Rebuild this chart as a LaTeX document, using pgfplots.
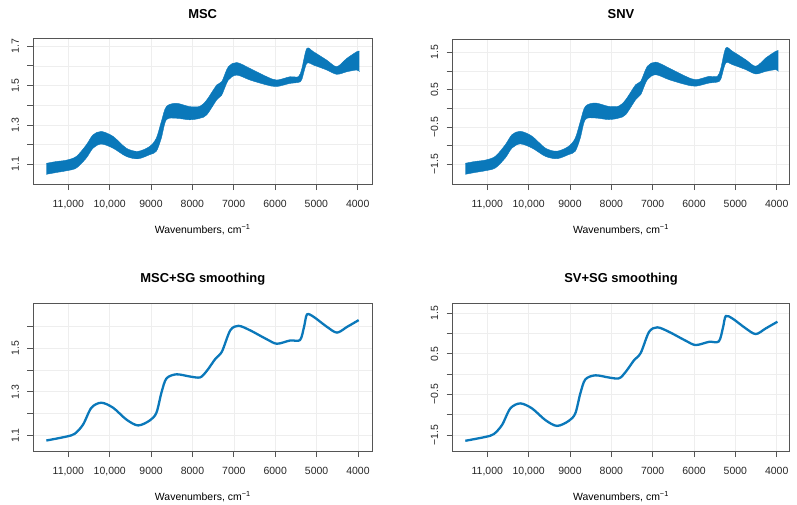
\documentclass[border=0pt]{standalone}
\usepackage{fontspec}
\setmainfont{Liberation Sans}
\usepackage{pgfplots}
\pgfplotsset{compat=1.18}
\usepackage{pgfplotstable}
\usepgfplotslibrary{fillbetween}
\definecolor{spec}{HTML}{0A78BA}
\definecolor{frame}{HTML}{555555}
\definecolor{grd}{HTML}{EEEEEE}

% band envelopes of the raw spectra (lo/hi) and the smoothed curves
\pgfplotstableread{
w     lo     hi
11532 1.049  1.105
11300 1.058  1.114
11048 1.067  1.121
10806 1.081  1.140
10564 1.132  1.199
10402 1.182  1.250
10202 1.203  1.267
9918  1.182  1.242
9597  1.140  1.182
9314  1.128  1.166
9031  1.149  1.191
8871  1.166  1.233
8750  1.233  1.317
8629  1.326  1.393
8387  1.334  1.410
8063  1.326  1.393
7814  1.334  1.395
7652  1.351  1.427
7410  1.427  1.503
7288  1.452  1.520
7129  1.528  1.596
6925  1.553  1.617
6604  1.528  1.587
6200  1.503  1.545
5958  1.495  1.528
5636  1.511  1.545
5435  1.516  1.545
5353  1.530  1.585
5232  1.612  1.688
5071  1.604  1.672
4748  1.579  1.629
4506  1.557  1.596
4264  1.570  1.638
4022  1.579  1.672
3959  1.570  1.675
}\msc

\pgfplotstableread{
w     lo      hi
11532 -1.770  -1.474
11300 -1.722  -1.426
11048 -1.675  -1.389
10806 -1.601  -1.288
10564 -1.331  -0.976
10402 -1.066  -0.706
10202 -0.955  -0.616
9918  -1.066  -0.748
9597  -1.288  -1.066
9314  -1.352  -1.151
9031  -1.241  -1.018
8871  -1.151  -0.796
8750  -0.796  -0.351
8629  -0.303   0.051
8387  -0.261   0.141
8063  -0.303   0.051
7814  -0.261   0.062
7652  -0.171   0.231
7410   0.231   0.634
7288   0.364   0.724
7129   0.766   1.126
6925   0.899   1.238
6604   0.766   1.079
6200   0.634   0.856
5958   0.592   0.766
5636   0.676   0.856
5435   0.703   0.856
5353   0.777   1.068
5232   1.211   1.613
5071   1.169   1.529
4748   1.036   1.301
4506   0.920   1.126
4264   0.989   1.349
4022   1.036   1.529
3959   0.989   1.545
}\snv

\pgfplotstableread{
w     msc    snv
11532 1.077  -1.639
11048 1.095  -1.544
10845 1.108  -1.475
10644 1.150  -1.251
10443 1.227  -0.843
10202 1.250  -0.720
9918  1.227  -0.843
9597  1.173  -1.129
9314  1.146  -1.273
9031  1.169  -1.151
8871  1.204  -0.965
8750  1.296  -0.476
8629  1.361  -0.131
8387  1.380  -0.030
8063  1.370  -0.083
7814  1.366  -0.104
7652  1.396   0.055
7450  1.450   0.342
7288  1.484   0.522
7087  1.581   1.038
6887  1.602   1.149
6604  1.581   1.038
6200  1.540   0.820
5958  1.520   0.714
5636  1.535   0.793
5400  1.537   0.804
5300  1.600   1.139
5232  1.654   1.425
5071  1.643   1.367
4748  1.597   1.123
4506  1.571   0.984
4264  1.597   1.123
3983  1.628   1.287
}\sg

\pgfplotsset{
  rpanel/.style={
    scale only axis, x dir=reverse, anchor=north west,
    scaled x ticks=false, scaled y ticks=false,
    axis line style={frame, line width=0.9bp},
    tick style={frame, line width=0.8bp},
    major tick length=6bp, tick align=outside,
    xtick pos=bottom, ytick pos=left,
    grid=major, major grid style={grd, line width=0.6bp},
    xtick={4000,5000,6000,7000,8000,9000,10000,11000},
    xticklabels={4000,5000,6000,7000,8000,9000,{10,000},{11,000}},
    ticklabel style={font=\fontsize{10.5}{12}\selectfont, text=black!85},
    xticklabel style={anchor=base, yshift=-17bp},
    yticklabel style={rotate=90, anchor=base, yshift=8.5bp},
    title style={font=\bfseries\fontsize{13}{15}\selectfont, at={(0.5,1)}, anchor=base, yshift=14.5bp},
    xlabel={Wavenumbers, cm\textsuperscript{−1}},
    xlabel style={font=\fontsize{10.5}{12}\selectfont, at={(axis description cs:0.5,0)}, anchor=base, yshift=-49bp},
  },
  band/.style={draw=spec, line width=0.4bp, smooth, tension=0.5},
  sgline/.style={draw=spec, line width=2.3bp, smooth, tension=0.5},
}

\begin{document}
\begin{tikzpicture}

\begin{axis}[rpanel, at={(33.3bp,-38.5bp)}, width=338.7bp, height=145.5bp,
    xmin=3654, xmax=11847, ymin=1.0, ymax=1.739, title={MSC},
    ytick={1.1,1.2,1.3,1.4,1.5,1.6,1.7}, yticklabels={1.1,,1.3,,1.5,,1.7}]
  \addplot[band, name path=hi] table[x=w, y=hi] {\msc};
  \addplot[band, name path=lo] table[x=w, y=lo] {\msc};
  \addplot[fill=spec, draw=none] fill between[of=hi and lo];
\end{axis}

\begin{axis}[rpanel, at={(452.7bp,-39bp)}, width=336.6bp, height=145bp,
    xmin=3695, xmax=11837, ymin=-2.03, ymax=1.857, title={SNV},
    ytick={-1.5,-1,-0.5,0,0.5,1,1.5}, yticklabels={−1.5,,−0.5,,0.5,,1.5}]
  \addplot[band, name path=hi] table[x=w, y=hi] {\snv};
  \addplot[band, name path=lo] table[x=w, y=lo] {\snv};
  \addplot[fill=spec, draw=none] fill between[of=hi and lo];
\end{axis}

\begin{axis}[rpanel, at={(33.3bp,-303.3bp)}, width=339bp, height=147.7bp,
    xmin=3654, xmax=11847, ymin=1.029, ymax=1.705, title={MSC+SG smoothing},
    ytick={1.1,1.2,1.3,1.4,1.5,1.6}, yticklabels={1.1,,1.3,,1.5,}]
  \addplot[sgline] table[x=w, y=msc] {\sg};
\end{axis}

\begin{axis}[rpanel, at={(452.7bp,-303.3bp)}, width=336.6bp, height=147.7bp,
    xmin=3695, xmax=11837, ymin=-1.89, ymax=1.74, title={SV+SG smoothing},
    ytick={-1.5,-1,-0.5,0,0.5,1,1.5}, yticklabels={−1.5,,−0.5,,0.5,,1.5}]
  \addplot[sgline] table[x=w, y=snv] {\sg};
\end{axis}

\path (0,0) rectangle (797bp,-505bp);
\end{tikzpicture}
\end{document}
